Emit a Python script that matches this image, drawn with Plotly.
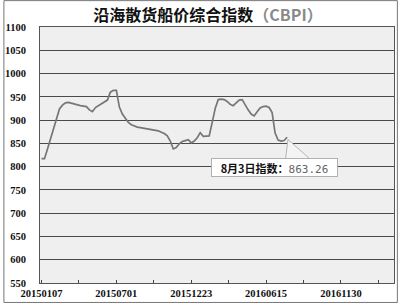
import plotly.graph_objects as go

# Weekly index values, 2015-01-07 .. 2016-08-03 (83 weeks)
values = [817, 817, 838, 860, 882, 903, 924, 932, 937, 938,
          936, 934, 932, 931, 930, 929, 922, 918, 927, 931,
          935, 940, 943, 960, 964, 964, 928, 913, 904, 895,
          890, 887, 885, 884, 883, 882, 881, 880, 878, 877,
          874, 871, 866, 855, 838, 841, 849, 854, 856, 858,
          851, 855, 862, 873, 865, 865, 866, 895, 925, 944,
          945, 944, 940, 934, 931, 937, 943, 944, 932, 922,
          913, 909, 918, 926, 929, 930, 927, 916, 872, 857,
          855, 856, 863.26]
week_index = list(range(len(values)))

tick_positions = [0, 12.5, 25, 37.5, 50, 62.5, 75, 87.5, 100, 112.5]
tick_labels = ["20150107", "", "20150701", "", "20151223", "",
               "20160615", "", "20161130", ""]
y_ticks = [550, 600, 650, 700, 750, 800, 850, 900, 950, 1000, 1050, 1100]

title_main = "沿海散货船价综合指数"
title_tail = "（CBPI）"
callout_label = "8月3日指数："

last_i = week_index[-1]
last_v = values[-1]

fig = go.Figure()
fig.add_trace(go.Scatter(
    x=week_index, y=values, mode="lines",
    line=dict(color="#767676", width=1.7),
    hoverinfo="skip", showlegend=False,
))

tick_font = dict(family="Liberation Serif, DejaVu Serif, serif", size=10.5,
                 color="#111", weight="bold")

fig.update_layout(
    width=400, height=304,
    margin=dict(l=37, r=5, t=27, b=20),
    paper_bgcolor="white",
    plot_bgcolor="#efefef",
    title=dict(
        text=f"<b>{title_main}</b><span style='color:#8a8a8a'><b>{title_tail}</b></span>",
        x=0.52, xanchor="center", y=0.95, yanchor="middle",
        font=dict(family="Noto Sans CJK SC, sans-serif", size=16, color="#111"),
    ),
    xaxis=dict(
        range=[-0.5, 117.7],
        tickmode="array", tickvals=tick_positions, ticktext=tick_labels,
        ticks="inside", ticklen=3, tickcolor="#444",
        showgrid=False, zeroline=False,
        showline=True, linecolor="#555", linewidth=1, mirror=True,
        tickfont=tick_font,
    ),
    yaxis=dict(
        range=[550, 1100],
        tickmode="array", tickvals=y_ticks,
        ticks="", showgrid=True, gridcolor="#4a4a4a", gridwidth=1,
        zeroline=False,
        showline=True, linecolor="#555", linewidth=1, mirror=True,
        tickfont=tick_font,
        ticklabelstandoff=11,
    ),
)

# Callout wedge from the last point down to the label box
fig.add_shape(
    type="path", xref="x", yref="y",
    path=f"M {last_i + 0.3},{last_v - 5} L {last_i - 0.5},{last_v - 46} L {last_i + 7.5},{last_v - 46} Z",
    fillcolor="#f4f4f4", line=dict(color="#b5b5b5", width=1), layer="above",
)

fig.add_annotation(
    x=last_i, y=last_v, xref="x", yref="y",
    text=f"<b>{callout_label}</b><span style='font-family:DejaVu Sans Mono, monospace;color:#666'>{last_v:.2f}</span>",
    showarrow=True, arrowcolor="rgba(0,0,0,0)", arrowwidth=0.1,
    ax=-13, ay=30,
    bgcolor="white", bordercolor="#b0b0b0", borderwidth=1, borderpad=2,
    width=121, height=13,
    font=dict(family="Noto Sans CJK SC, sans-serif", size=11, color="#111"),
)

# Outer frame of the picture
fig.add_shape(
    type="rect", xref="paper", yref="paper",
    x0=-0.102, x1=1.0095, y0=-0.076, y1=1.103,
    line=dict(color="#777", width=1), fillcolor="rgba(0,0,0,0)", layer="above",
)

fig.write_html("out.html")
